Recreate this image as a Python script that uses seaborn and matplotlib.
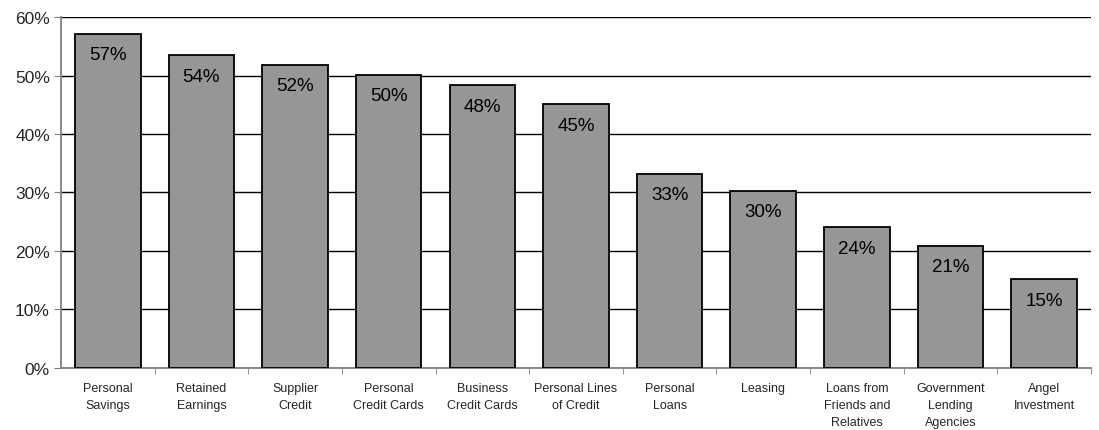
import numpy as np
import pandas as pd
import seaborn as sns
import matplotlib.pyplot as plt
from matplotlib.ticker import FuncFormatter

# Chart data
categories = [
    'Personal\nSavings', 'Retained\nEarnings', 'Supplier\nCredit',
    'Personal\nCredit Cards', 'Business\nCredit Cards', 'Personal Lines\nof Credit',
    'Personal\nLoans', 'Leasing', 'Loans from\nFriends and\nRelatives',
    'Government\nLending\nAgencies', 'Angel\nInvestment'
]
values = [57.1, 53.5, 51.8, 50.1, 48.3, 45.1, 33.2, 30.3, 24.1, 20.9, 15.2]
bar_labels = ['57%', '54%', '52%', '50%', '48%', '45%', '33%', '30%', '24%', '21%', '15%']

df = pd.DataFrame({'category': categories, 'value': values})

sns.set_style('white')
plt.rcParams['font.family'] = ['Liberation Sans', 'DejaVu Sans']

fig = plt.figure(figsize=(10.99, 4.31), dpi=100)
ax = fig.add_axes([0.0555, 0.1439, 0.9372, 0.8143])

sns.barplot(data=df, x='category', y='value', color='#969696', saturation=1,
            width=0.7, edgecolor='black', linewidth=1.3, ax=ax, zorder=3)

# Value labels just inside the top of each bar
for patch, lab in zip(ax.patches, bar_labels):
    ax.annotate(lab, (patch.get_x() + patch.get_width() / 2, patch.get_height()),
                xytext=(0, -9), textcoords='offset points',
                ha='center', va='top', fontsize=13.5, color='black', zorder=4)

ax.set_ylim(0, 60)
ax.set_xlim(-0.5, len(categories) - 0.5)
ax.set_yticks(np.arange(0, 61, 10))
ax.yaxis.set_major_formatter(FuncFormatter(lambda v, p: f'{v:.0f}%'))
ax.tick_params(axis='y', labelsize=12.5, length=5, direction='out', left=True, color='#808080', pad=3)
ax.tick_params(axis='x', labelsize=9, length=0, pad=10)
ax.set_xticks(np.arange(len(categories)) + 0.5, minor=True)
ax.tick_params(axis='x', which='minor', length=4, bottom=True, color='#808080')
for t in ax.get_xticklabels():
    t.set_linespacing(1.55)

ax.grid(axis='y', color='black', linewidth=1, zorder=0)
ax.set_axisbelow(True)
ax.set_xlabel('')
ax.set_ylabel('')

for side in ['top', 'right']:
    ax.spines[side].set_visible(False)
for side in ['left', 'bottom']:
    ax.spines[side].set_color('#808080')
    ax.spines[side].set_linewidth(1.3)

fig.savefig('out.png', dpi=100)
